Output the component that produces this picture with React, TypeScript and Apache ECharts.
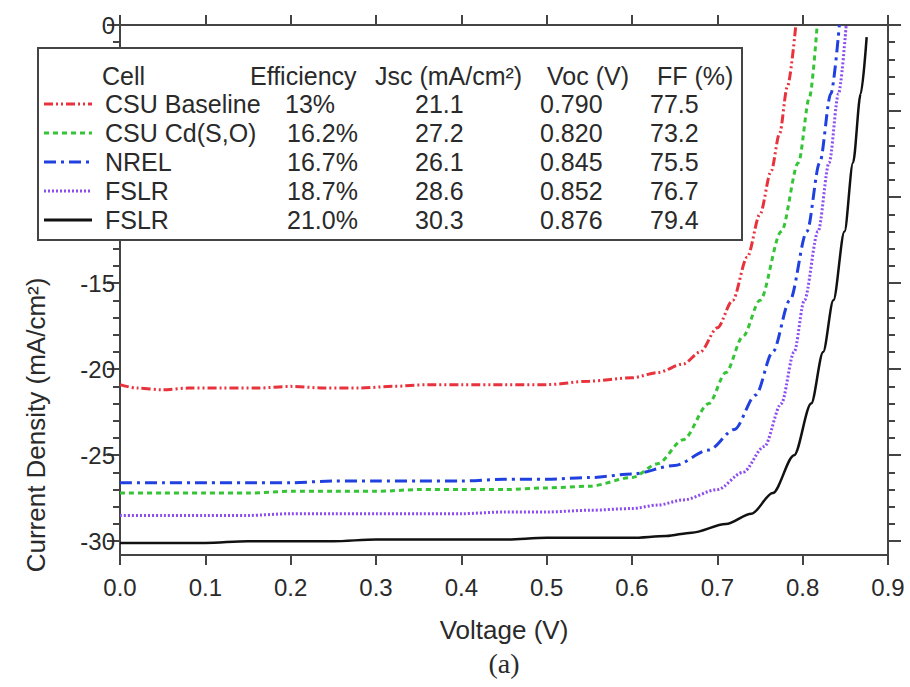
import React, { useEffect, useRef } from "react";
import * as echarts from "echarts";

// ---- data (Voltage V, Current density mA/cm²) ----
const csuBaseline: [number, number][] = [
  [0.0, -20.9], [0.02, -21.1], [0.05, -21.2], [0.08, -21.1], [0.12, -21.1], [0.16, -21.1],
  [0.2, -21.0], [0.24, -21.1], [0.28, -21.1], [0.32, -21.0], [0.36, -20.9], [0.4, -20.9],
  [0.45, -20.9], [0.5, -20.9], [0.55, -20.7], [0.6, -20.5], [0.63, -20.2], [0.66, -19.7],
  [0.68, -19.0], [0.7, -17.6], [0.718, -16.0], [0.735, -13.5], [0.75, -11.0], [0.763, -8.5],
  [0.773, -6.3], [0.782, -3.6], [0.792, 0.0],
];
const csuCdSO: [number, number][] = [
  [0.0, -27.2], [0.05, -27.2], [0.1, -27.2], [0.15, -27.2], [0.2, -27.1], [0.25, -27.1],
  [0.3, -27.1], [0.35, -27.0], [0.4, -27.0], [0.45, -27.0], [0.5, -26.9], [0.55, -26.8],
  [0.6, -26.3], [0.63, -25.5], [0.66, -24.1], [0.69, -22.0], [0.71, -20.2], [0.73, -18.1],
  [0.75, -16.0], [0.775, -12.0], [0.795, -8.0], [0.808, -4.2], [0.817, 0.0],
];
const nrel: [number, number][] = [
  [0.0, -26.6], [0.05, -26.6], [0.1, -26.6], [0.15, -26.6], [0.2, -26.6], [0.25, -26.5],
  [0.3, -26.5], [0.35, -26.5], [0.4, -26.5], [0.45, -26.4], [0.5, -26.4], [0.55, -26.3],
  [0.6, -26.1], [0.65, -25.6], [0.69, -24.7], [0.72, -23.5], [0.745, -21.5], [0.765, -19.0],
  [0.785, -16.0], [0.805, -12.0], [0.82, -8.0], [0.833, -4.0], [0.843, 0.0],
];
const fslr187: [number, number][] = [
  [0.0, -28.5], [0.05, -28.5], [0.1, -28.5], [0.15, -28.5], [0.2, -28.4], [0.25, -28.4],
  [0.3, -28.4], [0.35, -28.4], [0.4, -28.4], [0.45, -28.3], [0.5, -28.3], [0.55, -28.2],
  [0.6, -28.1], [0.63, -27.9], [0.66, -27.6], [0.7, -27.0], [0.73, -26.0], [0.755, -24.5],
  [0.775, -22.0], [0.79, -19.0], [0.802, -16.0], [0.818, -12.0], [0.831, -8.0],
  [0.842, -4.0], [0.851, 0.0],
];
const fslr210: [number, number][] = [
  [0.0, -30.1], [0.05, -30.1], [0.1, -30.1], [0.15, -30.0], [0.2, -30.0], [0.25, -30.0],
  [0.3, -29.9], [0.35, -29.9], [0.4, -29.9], [0.45, -29.9], [0.5, -29.8], [0.55, -29.8],
  [0.6, -29.8], [0.64, -29.7], [0.67, -29.5], [0.71, -29.0], [0.74, -28.4], [0.765, -27.2],
  [0.79, -25.0], [0.81, -22.0], [0.824, -19.0], [0.836, -16.0], [0.849, -12.0],
  [0.859, -8.0], [0.868, -4.0], [0.875, -0.7],
];

const cellNames = ["CSU Baseline", "CSU Cd(S,O)", "NREL", "FSLR", "FSLR"];
const efficiency = ["13%", "16.2%", "16.7%", "18.7%", "21.0%"];
const jsc = ["21.1", "27.2", "26.1", "28.6", "30.3"];
const voc = ["0.790", "0.820", "0.845", "0.852", "0.876"];
const ff = ["77.5", "73.2", "75.5", "76.7", "79.4"];
const headers = ["Cell", "Efficiency", "Jsc (mA/cm²)", "Voc (V)", "FF (%)"];

const yMajorTicks = [0, -5, -10, -15, -20, -25, -30];
const yLabelTicks = [0, -15, -20, -25, -30];
const yMinorTicks = Array.from({ length: 31 }, (_, i) => -i);

const colors = ["#e8323c", "#35c435", "#2040e0", "#8b4cf0", "#111111"];
const dashes: (number[] | "solid")[] = [[9, 3, 2, 3, 2, 3], [5, 4], [12, 5, 3, 5], [2, 2], "solid"];
const seriesData = [csuBaseline, csuCdSO, nrel, fslr187, fslr210];

const FONT = "'Liberation Sans', Arial, sans-serif";
const AX = "#444";
const TXT = "#2a2a2a";

export default function App() {
  const ref = useRef<HTMLDivElement>(null);
  useEffect(() => {
    if (!ref.current) return;
    const chart = echarts.init(ref.current, null, { renderer: "svg" });

    const yBase = (pos: "left" | "right", major: boolean, labels: boolean) => ({
      type: "value",
      position: pos,
      min: -30.8,
      max: 0,
      axisLine: { show: major, onZero: false, lineStyle: { color: AX, width: 2 } },
      axisTick: {
        show: true,
        inside: false,
        length: major ? 13 : 7,
        customValues: major ? yMajorTicks : yMinorTicks,
        lineStyle: { color: AX, width: 2 },
      },
      axisLabel: labels
        ? { show: true, customValues: yLabelTicks, fontSize: 24, color: TXT, fontFamily: FONT, margin: 5 }
        : { show: false },
      splitLine: { show: false },
    });

    const legendRowsY = [104, 133, 162, 191, 220];
    const graphics: any[] = [
      {
        type: "rect",
        shape: { x: 38, y: 48, width: 704, height: 192 },
        style: { fill: "#fff", stroke: "#444", lineWidth: 2 },
        z: 100,
      },
    ];
    const headerX = [102, 250, 375, 547, 657];
    headers.forEach((h, i) => {
      graphics.push({
        type: "text",
        x: headerX[i],
        y: 76,
        z: 101,
        style: { text: h, font: `25px ${FONT}`, fill: TXT, verticalAlign: "middle" },
      });
    });
    const cols = [cellNames, efficiency, jsc, voc, ff];
    const colX = [105, 287, 415, 540, 650];
    legendRowsY.forEach((yy, r) => {
      graphics.push({
        type: "line",
        z: 101,
        shape: { x1: 44, y1: yy, x2: 92, y2: yy },
        style: {
          stroke: colors[r],
          lineWidth: 3,
          lineDash: dashes[r] === "solid" ? null : (dashes[r] as number[]),
        },
      });
      cols.forEach((col, c) => {
        graphics.push({
          type: "text",
          x: colX[c] - (c === 1 && r === 0 ? 2 : 0),
          y: yy,
          z: 101,
          style: { text: col[r], font: `25px ${FONT}`, fill: TXT, verticalAlign: "middle" },
        });
      });
    });
    graphics.push({
      type: "text",
      x: 36,
      y: 425,
      rotation: Math.PI / 2,
      style: {
        text: "Current Density (mA/cm²)",
        font: `26px ${FONT}`,
        fill: TXT,
        align: "center",
        verticalAlign: "middle",
      },
    });
    graphics.push({
      type: "text",
      x: 504,
      y: 663,
      style: {
        text: "(a)",
        font: `28px 'Liberation Serif', 'Times New Roman', serif`,
        fill: TXT,
        align: "center",
        verticalAlign: "middle",
      },
    });

    chart.setOption({
      animation: false,
      backgroundColor: "#fff",
      grid: { left: 120, top: 25, right: 22, bottom: 132, containLabel: false },
      xAxis: [
        {
          type: "value",
          position: "bottom",
          min: 0,
          max: 0.9,
          interval: 0.1,
          name: "Voltage (V)",
          nameLocation: "middle",
          nameGap: 62,
          nameTextStyle: { fontSize: 26, color: TXT, fontFamily: FONT },
          axisLine: { show: true, onZero: false, lineStyle: { color: AX, width: 2 } },
          axisTick: { show: true, inside: false, length: 10, lineStyle: { color: AX, width: 2 } },
          axisLabel: {
            show: true,
            fontSize: 24,
            color: TXT,
            fontFamily: FONT,
            margin: 20,
            formatter: (v: number) => v.toFixed(1),
          },
          splitLine: { show: false },
        },
        {
          type: "value",
          position: "top",
          min: 0,
          max: 0.9,
          interval: 0.1,
          axisLine: { show: true, onZero: false, lineStyle: { color: AX, width: 2 } },
          axisTick: { show: true, inside: false, length: 10, lineStyle: { color: AX, width: 2 } },
          axisLabel: { show: false },
          splitLine: { show: false },
        },
      ],
      yAxis: [
        yBase("left", true, true),
        yBase("left", false, false),
        yBase("right", true, false),
        yBase("right", false, false),
      ],
      series: seriesData.map((d, i) => ({
        type: "line",
        name: `${cellNames[i]} ${efficiency[i]}`,
        data: d,
        xAxisIndex: 0,
        yAxisIndex: 0,
        showSymbol: false,
        symbol: "none",
        smooth: 0.3,
        smoothMonotone: "x",
        clip: true,
        lineStyle: { color: colors[i], width: i === 4 ? 2.5 : 3, type: dashes[i] },
        z: 5,
      })),
      graphic: graphics,
    });
    return () => chart.dispose();
  }, []);
  return (
    <div
      ref={ref}
      style={{ position: "fixed", left: 0, top: 0, width: 910, height: 687, background: "#fff" }}
    />
  );
}
